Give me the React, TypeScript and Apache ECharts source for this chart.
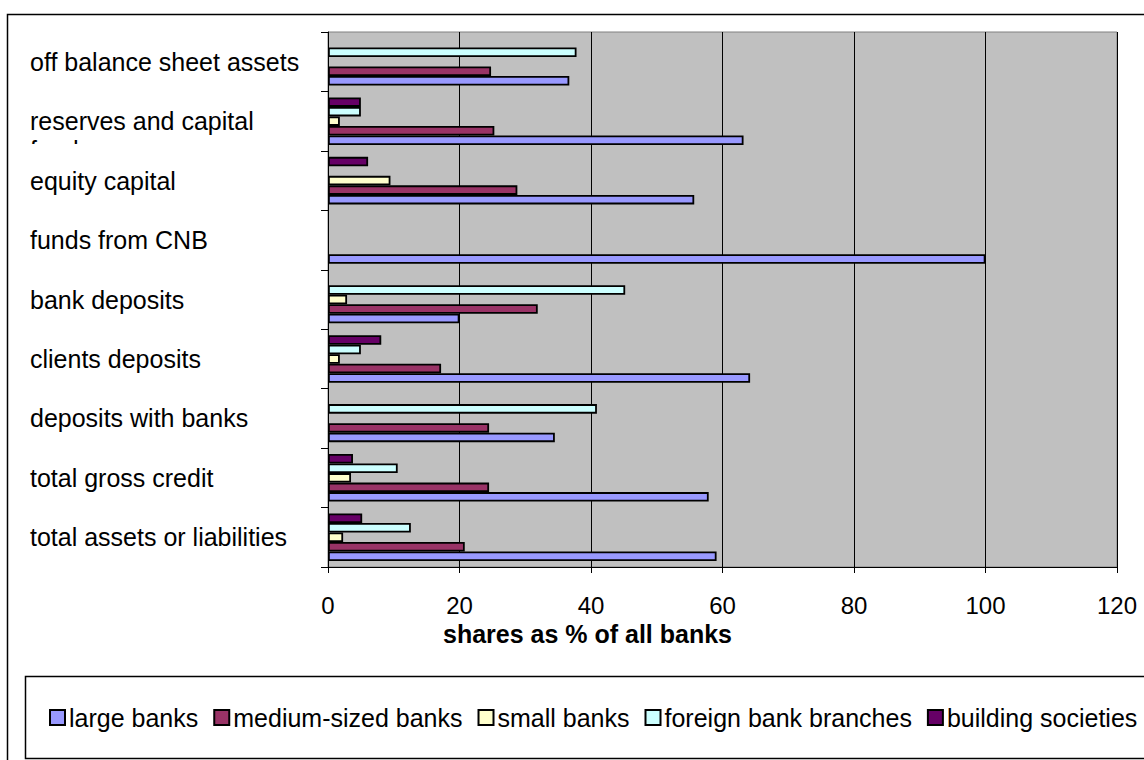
import React, { useEffect, useRef } from "react";
import * as echarts from "echarts";

const categories = [
  "total assets or liabilities",
  "total gross credit",
  "deposits with banks",
  "clients deposits",
  "bank deposits",
  "funds from CNB",
  "equity capital",
  "reserves and capital funds",
  "off balance sheet assets",
];

const seriesNames = [
  "large banks",
  "medium-sized banks",
  "small banks",
  "foreign bank branches",
  "building societies",
];

const largeBanks = [59.1, 57.9, 34.5, 64.2, 20.0, 100, 55.7, 63.2, 36.7];
const mediumBanks = [20.8, 24.5, 24.5, 17.2, 31.9, 0, 28.8, 25.3, 24.8];
const smallBanks = [2.3, 3.5, 0, 1.8, 2.9, 0, 9.5, 1.8, 0];
const foreignBranches = [12.6, 10.6, 40.9, 5.0, 45.2, 0, 0, 5.0, 37.8];
const buildingSocieties = [5.2, 3.8, 0, 8.1, 0, 0, 6.1, 5.0, 0];

const xTicks = { min: 0, max: 120, interval: 20 };
const colors = ["#9999FF", "#993366", "#FFFFCC", "#CCFFFF", "#660066"];

export default function App() {
  const ref = useRef<HTMLDivElement>(null);
  useEffect(() => {
    if (!ref.current) return;
    const chart = echarts.init(ref.current, null, { renderer: "svg" });
    const values = [largeBanks, mediumBanks, smallBanks, foreignBranches, buildingSocieties];
    const font = "Liberation Sans, Arial, sans-serif";
    const order = [4, 3, 2, 1, 0];
    chart.setOption({
      animation: false,
      backgroundColor: "#ffffff",
      textStyle: { fontFamily: font },
      grid: { left: 328, top: 32, right: 27, bottom: 193, show: true, backgroundColor: "#C0C0C0", borderColor: "#808080", borderWidth: 1 },
      xAxis: {
        type: "value",
        min: xTicks.min,
        max: xTicks.max,
        interval: xTicks.interval,
        axisLine: { show: true, lineStyle: { color: "#000", width: 1 } },
        axisTick: { show: true, length: 6, lineStyle: { color: "#000" } },
        splitLine: { show: true, lineStyle: { color: "#000", width: 1 } },
        axisLabel: { color: "#000", fontSize: 24, fontFamily: font, margin: 26 },
        name: "shares as % of all banks",
        nameLocation: "middle",
        nameGap: 53,
        nameTextStyle: { color: "#000", fontSize: 25, fontWeight: "bold", fontFamily: font, padding: [0, 270, 0, 0] },
      },
      yAxis: {
        type: "category",
        data: categories,
        axisLine: { show: true, lineStyle: { color: "#000", width: 1 } },
        axisTick: { show: true, length: 7, lineStyle: { color: "#000" } },
        splitLine: { show: false },
        axisLabel: {
          color: "#000",
          fontSize: 25,
          fontFamily: font,
          align: "left",
          margin: 298,
          lineHeight: 29,
          formatter: (v: string) => (v === "reserves and capital funds" ? " \nreserves and capital\nfunds" : v),
        },
      },
      legend: {
        data: seriesNames,
        left: 44,
        top: 700,
        width: 1300,
        icon: "rect",
        itemWidth: 15,
        itemHeight: 15,
        itemGap: 15,
        textStyle: { color: "#000", fontSize: 25, fontFamily: font, padding: [0, 0, 0, -1] },
      },
      graphic: [
        { type: "rect", z: 100, silent: true, shape: { x: 7.5, y: 14.5, width: 1200, height: 800 }, style: { fill: "none", stroke: "#000", lineWidth: 1.5 } },
        { type: "rect", z: 90, silent: true, shape: { x: 25.5, y: 676.5, width: 1200, height: 82 }, style: { fill: "none", stroke: "#000", lineWidth: 1.5 } },
        { type: "rect", z: 100, silent: true, shape: { x: 15, y: 144, width: 300, height: 22 }, style: { fill: "#fff" } },
      ],
      series: order.map((i) => ({
        name: seriesNames[i],
        type: "bar",
        data: values[i].map((v) => (v === 0 ? "-" : v)),
        barGap: "0%",
        barCategoryGap: "20%",
        itemStyle: { color: colors[i], borderColor: "#000", borderWidth: 1.8 },
      })),
    });
    return () => chart.dispose();
  }, []);
  return <div ref={ref} style={{ width: 1144, height: 760, position: "absolute", left: 0, top: 0 }} />;
}
